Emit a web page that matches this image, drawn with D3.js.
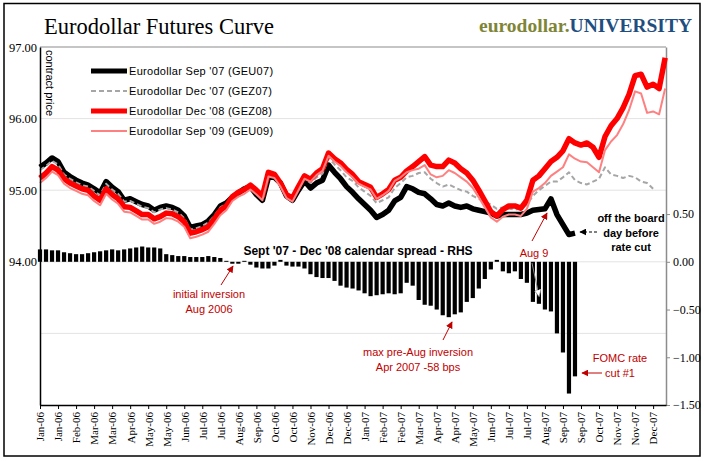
<!DOCTYPE html>
<html>
<head>
<meta charset="utf-8">
<script src="https://cdn.jsdelivr.net/npm/d3@7"></script>
<style>
body { margin: 0; background: #fff; }
#canvas { width: 705px; height: 461px; }
</style>
</head>
<body>
<div id="canvas"></div>
<script>
// ----------------------------------------------------------
// DATA -----------------------------------------------------
// ----------------------------------------------------------
// weekly readings, first monday of 2006 onwards
var series_names = [
"Eurodollar Sep '07 (GEU07)",
"Eurodollar Dec '07 (GEZ07)",
"Eurodollar Dec '08 (GEZ08)",
"Eurodollar Sep '09 (GEU09)"
];

var tick_labels = ["Jan-06","Jan-06","Feb-06","Mar-06","Mar-06","Apr-06","May-06","May-06","Jun-06","Jul-06","Jul-06","Aug-06","Sep-06","Oct-06","Oct-06","Nov-06","Dec-06","Dec-06",
"Jan-07","Feb-07","Feb-07","Mar-07","Apr-07","Apr-07","May-07","Jun-07","Jul-07","Jul-07","Aug-07","Sep-07","Sep-07","Oct-07","Nov-07","Nov-07","Dec-07"];

var left_ticks = [94, 95, 96, 97];
var right_ticks = [-1.5, -1, -0.5, 0, 0.5];

// GEU07 - expires sep 07
var geu07 = [95.32,95.38,95.45,95.40,95.25,95.19,95.14,95.10,95.07,95.02,94.96,95.12,95.04,94.98,94.86,94.88,94.84,94.80,94.78,94.72,
94.76,94.78,94.76,94.72,94.64,94.48,94.50,94.52,94.57,94.66,94.78,94.82,94.90,94.96,95.02,95.05,94.94,94.86,95.18,95.18,
95.10,94.92,94.86,95.00,95.13,95.03,95.10,95.14,95.35,95.25,95.16,95.05,94.97,94.88,94.80,94.72,94.62,94.66,94.72,94.85,
94.90,95.05,95.02,94.97,94.95,94.88,94.80,94.78,94.82,94.78,94.76,94.78,94.74,94.72,94.70,94.68,94.64,94.66,94.66,94.66,
94.66,94.68,94.72,94.73,94.74,94.88,94.66,94.52,94.38,94.40];

// GEZ07 - expires dec 07
var gez07 = [95.28,95.34,95.41,95.36,95.22,95.16,95.11,95.07,95.05,94.99,94.93,95.09,95.01,94.95,94.84,94.85,94.81,94.77,94.75,94.69,
94.73,94.75,94.73,94.69,94.61,94.45,94.47,94.50,94.55,94.64,94.76,94.81,94.91,94.97,95.03,95.07,94.98,94.90,95.22,95.21,
95.11,94.94,94.89,95.03,95.17,95.10,95.18,95.23,95.45,95.36,95.28,95.18,95.13,95.04,94.98,94.92,94.82,94.86,94.90,95.03,
95.10,95.18,95.20,95.24,95.25,95.16,95.10,95.05,95.08,95.04,95.00,94.98,94.92,94.88,94.84,94.80,94.74,94.76,94.74,94.73,
94.74,94.80,94.92,95.00,95.06,95.12,95.12,95.18,95.25,95.14,95.10,95.08,95.12,95.16,95.32,95.22,95.20,95.17,95.20,95.18,
95.12,95.10,95.02];

// GEZ08
var gez08 = [95.17,95.24,95.33,95.28,95.16,95.10,95.06,95.02,95.00,94.92,94.86,95.02,94.94,94.88,94.77,94.76,94.71,94.66,94.66,94.60,
94.63,94.68,94.67,94.63,94.56,94.40,94.42,94.45,94.49,94.60,94.72,94.78,94.91,94.97,95.01,95.07,95.00,94.92,95.25,95.22,
95.10,94.94,94.89,95.05,95.20,95.15,95.24,95.30,95.52,95.44,95.38,95.29,95.22,95.12,95.08,95.04,94.90,94.95,95.01,95.14,
95.18,95.27,95.33,95.40,95.47,95.35,95.33,95.33,95.42,95.38,95.30,95.24,95.14,95.00,94.85,94.70,94.64,94.73,94.78,94.78,
94.75,94.86,95.14,95.20,95.30,95.40,95.46,95.55,95.72,95.66,95.63,95.66,95.60,95.46,95.75,95.90,96.00,96.15,96.34,96.60,
96.62,96.44,96.48,96.42,96.85];

// GEU09
var geu09 = [95.10,95.17,95.26,95.21,95.09,95.03,94.99,94.95,94.93,94.85,94.79,94.95,94.87,94.81,94.70,94.69,94.64,94.59,94.59,94.53,
94.56,94.61,94.60,94.56,94.49,94.33,94.35,94.38,94.42,94.53,94.65,94.72,94.85,94.91,94.95,95.01,94.94,94.86,95.19,95.17,
95.05,94.89,94.84,95.00,95.16,95.12,95.21,95.27,95.48,95.40,95.34,95.25,95.18,95.09,95.05,95.01,94.88,94.93,94.99,95.13,
95.18,95.25,95.28,95.30,95.35,95.22,95.18,95.20,95.28,95.24,95.18,95.12,95.03,94.90,94.76,94.62,94.56,94.63,94.66,94.66,
94.64,94.74,94.98,95.03,95.10,95.20,95.26,95.32,95.50,95.44,95.40,95.39,95.32,95.25,95.56,95.68,95.77,95.92,96.12,96.38,
96.35,96.08,96.10,96.06,96.42];

// Sep '07 - Dec '08 calendar spread (RHS)
var spread = [0.13,0.13,0.12,0.12,0.10,0.09,0.08,0.08,0.09,0.10,0.11,0.12,0.13,0.12,0.13,0.14,0.15,0.16,0.15,0.15,
0.14,0.08,0.07,0.06,0.06,0.05,0.05,0.05,0.06,0.05,0.04,0.01,-0.02,-0.02,0.01,-0.03,-0.06,-0.07,-0.07,-0.04,
0.02,-0.04,-0.05,-0.05,-0.07,-0.13,-0.16,-0.17,-0.17,-0.20,-0.25,-0.27,-0.28,-0.30,-0.33,-0.36,-0.35,-0.34,-0.33,-0.34,
-0.33,-0.22,-0.25,-0.40,-0.45,-0.46,-0.50,-0.56,-0.58,-0.55,-0.53,-0.42,-0.38,-0.28,-0.18,-0.08,0.02,-0.10,-0.12,-0.10,
-0.18,-0.22,-0.42,-0.44,-0.50,-0.52,-0.75,-0.95,-1.38,-1.20];

var data_set =
{
container_width: 705,
container_height: 461,
plot_left: 40,
plot_right: 666,
plot_top: 47,
plot_bottom: 405,
color_red: "#ff0000",
color_pink: "#ff8080",
color_grey: "#a6a6a6",
color_note: "#c00000",
color_grid: "#e3e3e3"
};

var week_start = new Date(2006, 0, 2);
var week_dates = d3.range(gez08.length).map((i) => d3.timeDay.offset(week_start, 7 * i));
var tick_dates = tick_labels.map((s, k) => d3.timeDay.offset(week_start, 21 * k));




// ----------------------------------------------------------
// STRUCTURE ------------------------------------------------
// ----------------------------------------------------------
var container = d3.select("#canvas").append("svg")
.attr("width", data_set.container_width)
.attr("height", data_set.container_height)
.style("background-color", "#fff");

var defs = container.append("defs");

// arrow heads
var make_marker = function (id, fill, stroke) {
defs.append("marker")
.attr("id", id)
.attr("viewBox", "0 0 10 10")
.attr("refX", 9)
.attr("refY", 5)
.attr("markerWidth", 7)
.attr("markerHeight", 7)
.attr("markerUnits", "userSpaceOnUse")
.attr("orient", "auto")
.append("path")
.attr("d", "M0,0 L10,5 L0,10 z")
.style("fill", fill)
.style("stroke", stroke)
.style("stroke-width", 1);
};
make_marker("arrow_red", data_set.color_note, "none");
make_marker("arrow_black", "#000", "none");
make_marker("arrow_grey", "#fff", "#888");

// outer frame
container.append("rect")
.attr("x", 4)
.attr("y", 3.5)
.attr("width", 696)
.attr("height", 452.5)
.style("fill", "none")
.style("stroke", "#000")
.style("stroke-width", 1.5);

var gfx_group = container.append("g").attr("class", "gfx_group");
var text_group = container.append("g").attr("class", "text_group");




// ----------------------------------------------------------
// SCALES ---------------------------------------------------
// ----------------------------------------------------------
var xScale = d3.scaleTime()
.domain([week_start, new Date(2008, 0, 1)])
.range([data_set.plot_left, data_set.plot_right]);

// left - contract price
var yLeft = d3.scaleLinear()
.domain([92, 97])
.range([data_set.plot_bottom, data_set.plot_top]);

// right - spread
var yRight = d3.scaleLinear()
.domain([-1.5, 2.25])
.range([data_set.plot_bottom, data_set.plot_top]);




// ----------------------------------------------------------
// GRID + AXES ----------------------------------------------
// ----------------------------------------------------------
gfx_group.append("g")
.attr("class", "gfx_grid_horizontal")
.selectAll("line")
.data([93, 94, 95, 96])
.enter()
.append("line")
.attr("x1", data_set.plot_left)
.attr("x2", data_set.plot_right)
.attr("y1", (d) => yLeft(d))
.attr("y2", (d) => yLeft(d))
.style("stroke", data_set.color_grid)
.style("stroke-width", 1);

// top border of plot
gfx_group.append("line")
.attr("x1", data_set.plot_left)
.attr("x2", data_set.plot_right)
.attr("y1", data_set.plot_top)
.attr("y2", data_set.plot_top)
.style("stroke", "#8c8c8c")
.style("stroke-width", 1.2);

// right axis
var axis_right = gfx_group.append("g")
.attr("class", "gfx_scale_right")
.attr("transform", `translate(${data_set.plot_right}, 0)`)
.call(d3.axisRight(yRight)
.tickValues(right_ticks)
.tickFormat(d3.format(".2f"))
.tickSize(4)
.tickSizeOuter(0)
.tickPadding(3));
axis_right.select(".domain").style("stroke", "#8c8c8c").style("stroke-width", 1.5);
axis_right.selectAll(".tick line").style("stroke", "#8c8c8c");
axis_right.selectAll("text")
.style("font-family", "Liberation Serif")
.style("font-size", "12px")
.style("fill", "#000");




// ----------------------------------------------------------
// BARS -----------------------------------------------------
// ----------------------------------------------------------
var bar_width = 4.2;
gfx_group.append("g")
.attr("class", "gfx_bar")
.selectAll("rect")
.data(spread)
.enter()
.append("rect")
.attr("x", (d, i) => xScale(week_dates[i]) - bar_width / 2)
.attr("y", (d) => Math.min(yRight(d), yRight(0)))
.attr("width", bar_width)
.attr("height", (d) => Math.abs(yRight(d) - yRight(0)))
.style("fill", "#000");




// ----------------------------------------------------------
// LINES ----------------------------------------------------
// ----------------------------------------------------------
var make_line = d3.line()
.x((d, i) => xScale(week_dates[i]))
.y((d) => yLeft(d));

var line_styles = [
{ values: geu07, color: "#000", width: 5.5, dash: null },
{ values: gez07, color: data_set.color_grey, width: 2, dash: "5,3" },
{ values: gez08, color: data_set.color_red, width: 5.5, dash: null },
{ values: geu09, color: data_set.color_pink, width: 2, dash: null }
];

line_styles.forEach(function (s) {
gfx_group.append("path")
.attr("d", make_line(s.values))
.style("fill", "none")
.style("stroke", s.color)
.style("stroke-width", s.width)
.style("stroke-linejoin", "round")
.style("stroke-dasharray", s.dash);
});

// left + bottom axes on top
var axis_left = gfx_group.append("g")
.attr("class", "gfx_scale_left")
.attr("transform", `translate(${data_set.plot_left}, 0)`)
.call(d3.axisLeft(yLeft)
.tickValues(left_ticks)
.tickFormat(d3.format(".2f"))
.tickSize(0)
.tickSizeOuter(0)
.tickPadding(3));
axis_left.select(".domain").style("stroke", "#000").style("stroke-width", 1.5);
axis_left.selectAll("text")
.style("font-family", "Liberation Serif")
.style("font-size", "12.5px")
.style("fill", "#000");

var axis_bottom = gfx_group.append("g")
.attr("class", "gfx_scale_bottom")
.attr("transform", `translate(0, ${data_set.plot_bottom})`)
.call(d3.axisBottom(xScale)
.tickValues(tick_dates)
.tickFormat((d, i) => tick_labels[i])
.tickSize(4)
.tickSizeOuter(0));
axis_bottom.select(".domain").style("stroke", "#000").style("stroke-width", 1.5);
axis_bottom.selectAll("text")
.attr("transform", "rotate(-90)")
.attr("x", -7)
.attr("y", 0)
.attr("dy", "0.35em")
.style("text-anchor", "end")
.style("font-family", "Liberation Serif")
.style("font-size", "11px")
.style("fill", "#000");




// ----------------------------------------------------------
// LEGEND ---------------------------------------------------
// ----------------------------------------------------------
var legend = text_group.append("g").attr("class", "legend");
line_styles.forEach(function (s, i) {
var ly = 71 + i * 20;
legend.append("line")
.attr("x1", 91)
.attr("x2", 127)
.attr("y1", ly)
.attr("y2", ly)
.style("stroke", s.color)
.style("stroke-width", s.width === 2 ? 2 : 5)
.style("stroke-dasharray", s.dash);
legend.append("text")
.attr("x", 129)
.attr("y", ly + 4)
.style("font-family", "Liberation Sans")
.style("font-size", "11px")
.style("letter-spacing", "0.3px")
.text(series_names[i]);
});




// ----------------------------------------------------------
// TEXT -----------------------------------------------------
// ----------------------------------------------------------
text_group.append("text")
.attr("x", 44)
.attr("y", 34)
.style("font-family", "Liberation Serif")
.style("font-size", "22.5px")
.text("Eurodollar Futures Curve");

var brand = text_group.append("text")
.attr("x", 692)
.attr("y", 32)
.attr("text-anchor", "end")
.style("font-family", "Liberation Serif")
.style("font-weight", "bold")
.style("font-size", "19.5px");
brand.append("tspan").style("fill", "#7f8536").text("eurodollar.");
brand.append("tspan").style("fill", "#1f4e80").text("UNIVERSITY");

text_group.append("text")
.attr("transform", "translate(46, 50) rotate(90)")
.style("font-family", "Liberation Sans")
.style("font-size", "11px")
.text("contract price");

text_group.append("text")
.attr("x", 358)
.attr("y", 255)
.attr("text-anchor", "middle")
.style("font-family", "Liberation Sans")
.style("font-weight", "bold")
.style("font-size", "12px")
.text("Sept '07 - Dec '08 calendar spread - RHS");

// notes
var add_note = function (lines, cx, y0, color, bold) {
var t = text_group.append("text")
.attr("text-anchor", "middle")
.style("font-family", "Liberation Sans")
.style("font-size", "11px")
.style("font-weight", bold ? "bold" : "normal")
.style("fill", color);
lines.forEach(function (l, i) {
t.append("tspan")
.attr("x", cx)
.attr("y", y0 + i * 14.5)
.text(l);
});
};
var add_arrow = function (x1, y1, x2, y2, color, marker, dash) {
text_group.append("line")
.attr("x1", x1).attr("y1", y1)
.attr("x2", x2).attr("y2", y2)
.style("stroke", color)
.style("stroke-width", 1)
.style("stroke-dasharray", dash)
.attr("marker-end", `url(#${marker})`);
};

add_note(["initial inversion", "Aug 2006"], 209, 298, data_set.color_note, false);
add_arrow(221, 285, 233, 266, data_set.color_note, "arrow_red", null);

add_note(["max pre-Aug inversion", "Apr 2007 -58 bps"], 418, 356, data_set.color_note, false);
add_arrow(443, 340, 452, 322, data_set.color_note, "arrow_red", null);

add_note(["Aug 9"], 534, 257, data_set.color_note, false);
add_arrow(532, 241, 547, 213, data_set.color_note, "arrow_red", null);
add_arrow(532, 263, 539, 296, "#888", "arrow_grey", null);

add_note(["off the board", "day before", "rate cut"], 631, 222, "#000", true);
add_arrow(597, 232, 580, 232, "#000", "arrow_black", "3,2");

add_note(["FOMC rate", "cut #1"], 620, 362, data_set.color_note, false);
add_arrow(602, 373, 582, 373, data_set.color_note, "arrow_red", null);
</script>
</body>
</html>
